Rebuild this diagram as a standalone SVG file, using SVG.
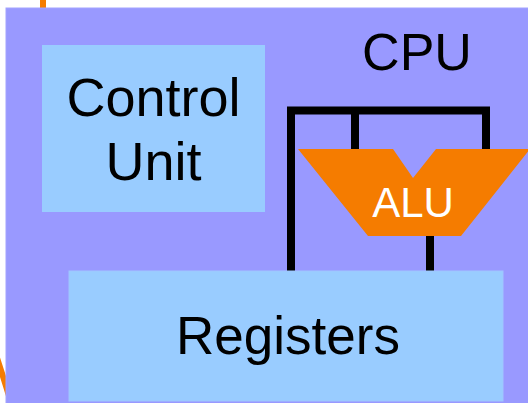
<svg xmlns="http://www.w3.org/2000/svg" width="528" height="403" viewBox="0 0 528 403">
<style>
.box{fill:#99ccff;}
.lbl{font-family:"Liberation Sans",Arial,sans-serif;font-size:53px;fill:#000;text-anchor:middle;}
.wire{fill:none;stroke:#000;stroke-width:8;stroke-linejoin:miter;stroke-linecap:butt;}
.orange{fill:none;stroke:#f57c00;stroke-width:6;}
</style>
<rect width="528" height="403" fill="#ffffff"/>
<path class="orange" d="M43,0 V10"/>
<path class="orange" d="M-3,358 Q3,376 9,396"/>
<g id="cpu">
<rect x="6" y="8" width="530" height="400" fill="#9999ff" stroke="#a3a3ff" stroke-width="1"/>
<text class="lbl" x="417" y="70" style="font-size:52px">CPU</text>
</g>
<g id="control-unit">
<rect class="box" x="42" y="45" width="223" height="167"/>
<text class="lbl" x="153.5" y="116" style="font-size:54px">Control</text>
<text class="lbl" x="153.5" y="180" style="font-size:54px">Unit</text>
</g>
<g id="connectors">
<path class="wire" d="M291,271 V110.5 H486 V149"/>
<path class="wire" d="M355,110.5 V149"/>
<path class="wire" d="M430,235 V271"/>
</g>
<g id="alu">
<polygon points="298,149 393,149 413,178 436,149 530,149 461,236 368,236" fill="#f57c00"/>
<text x="413" y="217" font-family="Liberation Sans, Arial, sans-serif" font-size="42" fill="#ffffff" text-anchor="middle">ALU</text>
</g>
<g id="registers">
<rect class="box" x="69" y="271" width="434" height="130" stroke="#9fc6ff" stroke-width="1"/>
<text class="lbl" x="288" y="354">Registers</text>
</g>
</svg>
